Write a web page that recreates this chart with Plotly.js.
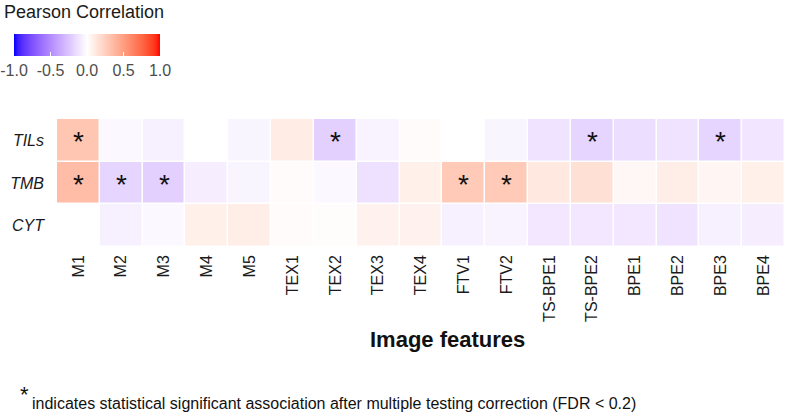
<!DOCTYPE html>
<html>
<head>
<meta charset="utf-8">
<script src="https://cdn.plot.ly/plotly-3.0.1.min.js"></script>
<style>html,body{margin:0;padding:0;background:#fff;}#chart{width:787px;height:416px;}</style>
</head>
<body>
<div id="chart"></div>
<script>
// ---- Data ----
const features = ["M1","M2","M3","M4","M5","TEX1","TEX2","TEX3","TEX4","FTV1","FTV2","TS-BPE1","TS-BPE2","BPE1","BPE2","BPE3","BPE4"];
const markers = ["TILs","TMB","CYT"];
const corrTILs = [0.30,-0.03,-0.06,0.00,-0.04,0.10,-0.20,-0.05,0.02,0.00,-0.04,-0.12,-0.18,-0.14,-0.12,-0.18,-0.11];
const corrTMB  = [0.35,-0.18,-0.20,-0.07,-0.04,0.02,-0.03,-0.13,0.08,0.28,0.28,0.12,0.16,0.04,0.09,0.05,0.08];
const corrCYT  = [0.00,-0.06,-0.03,0.08,0.09,0.02,0.01,0.07,0.07,-0.06,-0.05,-0.10,-0.10,-0.10,-0.12,-0.06,-0.07];
const sigTILs = [1,0,0,0,0,0,1,0,0,0,0,0,1,0,0,1,0];
const sigTMB  = [1,1,1,0,0,0,0,0,0,1,1,0,0,0,0,0,0];
const sigCYT  = [0,0,0,0,0,0,0,0,0,0,0,0,0,0,0,0,0];
const cbTicks = [-1,-0.5,0,0.5,1];
const cbTickText = ["-1.0","-0.5","0.0","0.5","1.0"];

// ---- Lab-interpolated diverging colour scale (blue - white - red) ----
function srgbToLinear(c){c/=255;return c<=0.04045?c/12.92:Math.pow((c+0.055)/1.055,2.4);}
function linearToSrgb(c){c=c<=0.0031308?12.92*c:1.055*Math.pow(c,1/2.4)-0.055;return Math.max(0,Math.min(255,Math.round(c*255)));}
const Xn=0.95047,Yn=1.0,Zn=1.08883;
function fLab(t){return t>0.008856?Math.cbrt(t):(7.787*t+16/116);}
function fInv(t){return t>0.206893?t*t*t:(t-16/116)/7.787;}
function rgbToLab(rgb){
  const r=srgbToLinear(rgb[0]),g=srgbToLinear(rgb[1]),b=srgbToLinear(rgb[2]);
  const X=r*0.4124+g*0.3576+b*0.1805,Y=r*0.2126+g*0.7152+b*0.0722,Z=r*0.0193+g*0.1192+b*0.9505;
  const fx=fLab(X/Xn),fy=fLab(Y/Yn),fz=fLab(Z/Zn);
  return [116*fy-16,500*(fx-fy),200*(fy-fz)];
}
function labToRgb(lab){
  const fy=(lab[0]+16)/116,fx=fy+lab[1]/500,fz=fy-lab[2]/200;
  const X=Xn*fInv(fx),Y=Yn*fInv(fy),Z=Zn*fInv(fz);
  const r=3.2406*X-1.5372*Y-0.4986*Z,g=-0.9689*X+1.8758*Y+0.0415*Z,b=0.0557*X-0.2040*Y+1.0570*Z;
  return [linearToSrgb(r),linearToSrgb(g),linearToSrgb(b)];
}
const labLow=rgbToLab([0,0,255]),labMid=rgbToLab([255,255,255]),labHigh=rgbToLab([255,0,0]);
const colorscale=[];
const N=40;
for(let i=0;i<=N;i++){
  const t=i/N; // 0..1 maps to -1..1
  let a,b,u;
  if(t<0.5){a=labLow;b=labMid;u=t/0.5;}else{a=labMid;b=labHigh;u=(t-0.5)/0.5;}
  const lab=[a[0]+(b[0]-a[0])*u,a[1]+(b[1]-a[1])*u,a[2]+(b[2]-a[2])*u];
  const rgb=labToRgb(lab);
  colorscale.push([t,`rgb(${rgb[0]},${rgb[1]},${rgb[2]})`]);
}

const z=[corrTILs,corrTMB,corrCYT];
const sig=[sigTILs,sigTMB,sigCYT];

const font="Liberation Sans, Arial, sans-serif";

// plot area pixel geometry helpers (layout only)
const W=787,H=416,mL=57,mR=2,mT=119,mB=169;
const pw=W-mL-mR, ph=H-mT-mB;
const px=(x)=>(x-mL)/pw;
const py=(y)=>(H-mB-y)/ph;

const annotations=[];
sig.forEach((row,ri)=>row.forEach((s,ci)=>{
  if(s){annotations.push({x:features[ci],y:markers[ri],xref:'x',yref:'y',text:'*',showarrow:false,
    font:{family:font,size:28,color:'#111'},yshift:-1});}
}));
annotations.push({xref:'paper',yref:'paper',x:px(2),y:py(12),xanchor:'left',yanchor:'middle',
  text:'Pearson Correlation',showarrow:false,font:{family:font,size:18,color:'#1a1a1a'}});
annotations.push({xref:'paper',yref:'paper',x:px(447),y:py(339),xanchor:'center',yanchor:'middle',
  text:'<b>Image features</b>',showarrow:false,font:{family:font,size:22,color:'#111'}});
annotations.push({xref:'paper',yref:'paper',x:px(18),y:py(394),xanchor:'left',yanchor:'middle',
  text:'*',showarrow:false,font:{family:font,size:22,color:'#111'}});
annotations.push({xref:'paper',yref:'paper',x:px(30),y:py(403),xanchor:'left',yanchor:'middle',
  text:'indicates statistical significant association after multiple testing correction (FDR < 0.2)',showarrow:false,font:{family:font,size:16,color:'#111'}});

const trace={
  type:'heatmap',
  x:features,y:markers,z:z,
  zmin:-1,zmax:1,
  colorscale:colorscale,
  xgap:1.5,ygap:1.5,
  hoverinfo:'x+y+z',
  colorbar:{
    orientation:'h',
    lenmode:'pixels',len:146,
    thickness:22,thicknessmode:'pixels',
    x:px(14),xanchor:'left',
    y:py(34),yanchor:'top',
    xpad:0,ypad:0,
    outlinewidth:0,
    tickvals:cbTicks,ticktext:cbTickText,
    ticks:'inside',ticklen:4,tickcolor:'#ffffff',tickwidth:1.5,
    tickfont:{family:font,size:16,color:'#4d4d4d'}
  }
};

const layout={
  width:W,height:H,
  margin:{l:mL,r:mR,t:mT,b:mB,pad:0},
  paper_bgcolor:'#ffffff',plot_bgcolor:'#ffffff',
  xaxis:{type:'category',showgrid:false,zeroline:false,showline:false,ticks:'',
    tickangle:-90,ticklabelstandoff:4,tickfont:{family:font,size:16,color:'#1a1a1a'}},
  yaxis:{type:'category',autorange:'reversed',showgrid:false,zeroline:false,showline:false,ticks:'',
    ticklabelstandoff:12,tickfont:{family:font,size:16,color:'#1a1a1a',style:'italic'}},
  annotations:annotations,
  showlegend:false
};

Plotly.newPlot('chart',[trace],layout,{displayModeBar:false,staticPlot:true});
</script>
</body>
</html>
